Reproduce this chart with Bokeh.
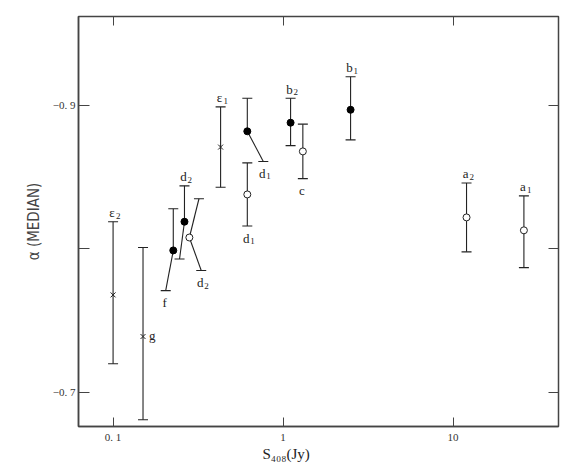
from bokeh.plotting import figure
from bokeh.models import Range1d, FixedTicker, LinearAxis, LogAxis, Title, ColumnDataSource
from bokeh.core.properties import value
from bokeh.embed import file_html
from bokeh.resources import INLINE

# ---- data ----
label_base = ["ε", "g", "f", "d", "d", "ε", "d", "d", "b", "c", "b", "a", "a"]
label_sub  = ["2", "", "", "2", "2", "1", "1", "1", "2", "", "1", "2", "1"]
kind      = ["cross", "cross", "filled", "filled", "open", "cross", "filled", "open",
             "filled", "open", "filled", "open", "open"]
s408      = [0.100, 0.150, 0.226, 0.263, 0.281, 0.429, 0.616, 0.616, 1.107, 1.307, 2.495, 12.0, 26.1]
alpha     = [-0.768, -0.739, -0.799, -0.819, -0.808, -0.871, -0.882, -0.838, -0.888, -0.868, -0.897, -0.822, -0.813]
alpha_top = [-0.819, -0.801, -0.828, -0.844, -0.835, -0.899, -0.905, -0.860, -0.905, -0.887, -0.920, -0.846, -0.837]
alpha_bot = [-0.720, -0.681, -0.771, -0.793, -0.785, -0.843, -0.861, -0.816, -0.872, -0.849, -0.876, -0.798, -0.787]
# x position of the error-bar ends (some ends are displaced sideways in the figure)
s408_top  = [0.100, 0.150, 0.226, 0.263, 0.320, 0.429, 0.616, 0.616, 1.107, 1.307, 2.495, 12.0, 26.1]
s408_bot  = [0.100, 0.150, 0.204, 0.246, 0.330, 0.429, 0.765, 0.616, 1.107, 1.307, 2.495, 12.0, 26.1]
label_pos = ["above", "right", "below", "above", "below", "above", "below", "below",
             "above", "below", "above", "above", "above"]

x_ticks = [0.1, 1, 10]
x_tick_labels = ["0. 1", "1", "10"]
y_ticks = [-0.9, -0.8, -0.7]
y_tick_labels = ["−0. 9", " ", "−0. 7"]

LINE = "#222222"
FRAME = "#444444"
SERIF = "Liberation Serif"

p = figure(frame_width=480, frame_height=410, x_axis_type="log",
           x_range=Range1d(0.0626, 41.7), y_range=Range1d(-0.6763, -0.962),
           output_backend="svg", toolbar_location=None,
           min_border_left=78, min_border_right=12, min_border_top=16, min_border_bottom=42)
p.background_fill_color = "white"
p.border_fill_color = "white"
p.outline_line_color = FRAME
p.outline_line_width = 1.5
p.xgrid.visible = False
p.ygrid.visible = False

# bottom axis
xa = p.xaxis[0]
xa.ticker = FixedTicker(ticks=x_ticks)
xa.major_label_overrides = {t: l for t, l in zip(x_ticks, x_tick_labels)}
xa.minor_tick_line_color = None
xa.major_tick_in = 9
xa.major_tick_out = 0
xa.major_label_standoff = 4
xa.major_label_text_font = SERIF
xa.major_label_text_font_size = "11px"
xa.major_label_text_color = "#333333"
xa.axis_line_color = FRAME
xa.axis_line_width = 1.5
xa.major_tick_line_color = FRAME

# x-axis title S_408(Jy)
p.add_layout(Title(text="S₄₀₈(Jy)", align="left", offset=184, standoff=0,
                   vertical_align="top",
                   text_font=SERIF, text_font_size="15px", text_font_style="normal",
                   text_color="#222222"), "below")

# left axis
ya = p.yaxis[0]
ya.ticker = FixedTicker(ticks=y_ticks)
ya.major_label_overrides = {t: l for t, l in zip(y_ticks, y_tick_labels)}
ya.minor_tick_line_color = None
ya.major_tick_in = 11
ya.major_tick_out = 0
ya.major_label_standoff = 3
ya.major_label_text_font = SERIF
ya.major_label_text_font_size = "11px"
ya.major_label_text_color = "#333333"
ya.axis_line_color = FRAME
ya.axis_line_width = 1.5
ya.major_tick_line_color = FRAME
ya.axis_label = "α (MEDIAN)"
ya.axis_label_text_font = "DejaVu Sans Condensed"
ya.axis_label_text_font_size = "15px"
ya.axis_label_text_font_style = "normal"
ya.axis_label_text_color = "#444444"
ya.axis_label_standoff = 7

# top and right axes (ticks only)
top = LogAxis(ticker=FixedTicker(ticks=x_ticks), major_tick_in=9, major_tick_out=0,
              minor_tick_line_color=None, major_label_text_font_size="1px",
              major_label_text_alpha=0,
              axis_line_color=FRAME, major_tick_line_color=FRAME, major_label_standoff=0)
p.add_layout(top, "above")
right = LinearAxis(ticker=FixedTicker(ticks=y_ticks), major_tick_in=10, major_tick_out=0,
                   minor_tick_line_color=None, major_label_text_font_size="1px",
                   major_label_text_alpha=0,
                   axis_line_color=FRAME, major_tick_line_color=FRAME, major_label_standoff=0)
p.add_layout(right, "right")

src = ColumnDataSource(dict(s=s408, a=alpha, at=alpha_top, ab=alpha_bot,
                            st=s408_top, sb=s408_bot))

# error bars
p.segment(x0="s", y0="a", x1="st", y1="at", source=src, line_color=LINE, line_width=1.1)
p.segment(x0="s", y0="a", x1="sb", y1="ab", source=src, line_color=LINE, line_width=1.1)
p.scatter(x="st", y="at", source=src, marker="dash", size=10, line_color=LINE, line_width=1.1)
p.scatter(x="sb", y="ab", source=src, marker="dash", size=10, line_color=LINE, line_width=1.1)

# markers
def pick(k):
    idx = [i for i, kk in enumerate(kind) if kk == k]
    return [s408[i] for i in idx], [alpha[i] for i in idx]

cx, cy = pick("cross")
p.scatter(cx, cy, marker="x", size=7, line_color=LINE, line_width=1)
fx, fy = pick("filled")
p.scatter(fx, fy, marker="circle", size=7, fill_color="black", line_color="black")
ox, oy = pick("open")
p.scatter(ox, oy, marker="circle", size=7, fill_color="white", line_color=LINE, line_width=1)

# point labels: base letter plus a small subscript digit
TXT = "#222222"
for pos, yoff in [("above", -9), ("below", 12)]:
    idx = [i for i, lp in enumerate(label_pos) if lp == pos]
    xs = [s408_top[i] if pos == "above" else s408_bot[i] for i in idx]
    ys = [alpha_top[i] if pos == "above" else alpha_bot[i] for i in idx]
    p.text(xs, ys, text=[label_base[i] for i in idx], text_font=value(SERIF),
           text_font_size="13px", text_color=TXT, text_align="center",
           text_baseline="alphabetic", x_offset=-1, y_offset=yoff)
    p.text(xs, ys, text=[label_sub[i] for i in idx], text_font=value(SERIF),
           text_font_size="9px", text_color=TXT, text_align="left",
           text_baseline="alphabetic", x_offset=3, y_offset=yoff + 3)
idx = [i for i, lp in enumerate(label_pos) if lp == "right"]
p.text([s408[i] for i in idx], [alpha[i] for i in idx], text=[label_base[i] for i in idx],
       text_font=value(SERIF), text_font_size="13px", text_color=TXT,
       text_align="left", text_baseline="middle", x_offset=6, y_offset=-1)

open("out.html", "w").write(file_html(p, INLINE))
